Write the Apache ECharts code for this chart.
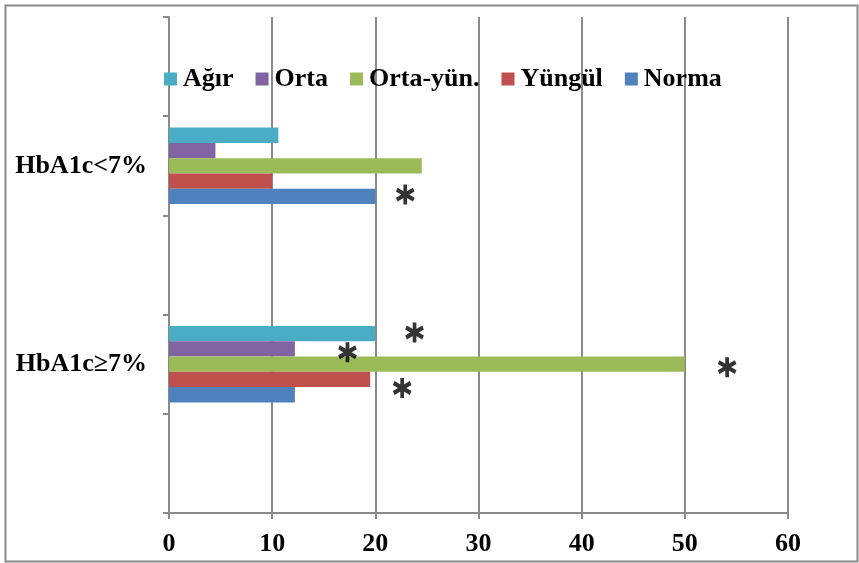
<!DOCTYPE html>
<html><head><meta charset="utf-8">
<script src="https://cdn.jsdelivr.net/npm/echarts@6/dist/echarts.min.js"></script>
<style>html,body{margin:0;padding:0;background:#fff}#c{width:859px;height:563px}</style>
</head><body><div id="c"></div>
<script>
// Categories from bottom to top (empty slots are blank spacer categories)
const categories = ['', 'HbA1c≥7%', ' ', 'HbA1c<7%', '  '];
const agir    = [null, 20.0, null, 10.6, null];
const orta    = [null, 12.2, null, 4.5, null];
const ortaYun = [null, 50.0, null, 24.5, null];
const yungul  = [null, 19.5, null, 10.0, null];
const norma   = [null, 12.2, null, 20.0, null];
const seriesNames = ['Ağır', 'Orta', 'Orta-yün.', 'Yüngül', 'Norma'];
const xTickMax = 60;
const xTickStep = 10;
// significance asterisks (x value, y position on 0..5 category scale)
const starX = [22.9, 23.8, 17.3, 54.1, 22.6];
const starY = [3.21, 1.82, 1.62, 1.47, 1.26];

const colors = ['#4BACC6', '#8064A2', '#9BBB59', '#C0504D', '#4F81BD'];
const values = [agir, orta, ortaYun, yungul, norma];
const font = 'Liberation Serif';
const grey = '#8a8a8a';

const chart = echarts.init(document.getElementById('c'), null, {renderer: 'canvas'});
const barSeries = seriesNames.map((n, i) => ({
  name: n,
  type: 'bar',
  data: values[i],
  barGap: '0%',
  barCategoryGap: '23%',
  itemStyle: {color: colors[i]},
  emphasis: {disabled: true},
  animation: false
}));
const asteriskPath = 'path://M10 0 L10 20 M1.34 5 L18.66 15 M1.34 15 L18.66 5';
const starSeries = {
  name: 'sig',
  type: 'scatter',
  yAxisIndex: 1,
  data: starX.map((x, i) => [x, starY[i]]),
  symbol: asteriskPath,
  symbolSize: [17, 20],
  itemStyle: {color: 'rgba(0,0,0,0)', borderColor: '#000', borderWidth: 4},
  emphasis: {disabled: true},
  silent: true,
  animation: false
};

chart.setOption({
  backgroundColor: '#fff',
  animation: false,
  graphic: [{
    type: 'rect', left: 3, top: 3,
    shape: {width: 852, height: 556},
    style: {fill: 'none', stroke: grey, lineWidth: 2},
    silent: true
  }],
  legend: {
    data: seriesNames,
    left: 159, top: 61,
    itemWidth: 13, itemHeight: 13, itemGap: 22,
    icon: 'rect',
    textStyle: {fontFamily: font, fontWeight: 'bold', fontSize: 26, color: '#000', padding: [0, 0, 0, 1]},
    selectedMode: false
  },
  grid: {left: 169, right: 71, top: 17, bottom: 50, containLabel: false},
  xAxis: {
    type: 'value', min: 0, max: xTickMax, interval: xTickStep,
    axisLine: {show: true, lineStyle: {color: grey, width: 2}},
    axisTick: {show: true, length: 6, lineStyle: {color: grey, width: 2}},
    splitLine: {show: true, lineStyle: {color: grey, width: 2}},
    axisLabel: {margin: 18, fontFamily: font, fontWeight: 'bold', fontSize: 26, color: '#000'}
  },
  yAxis: [{
    type: 'category', data: categories,
    axisLine: {show: true, lineStyle: {color: grey, width: 2}},
    axisTick: {show: true, length: 6, lineStyle: {color: grey, width: 2}},
    splitLine: {show: false},
    axisLabel: {margin: 22, fontFamily: font, fontWeight: 'bold', fontSize: 26, color: '#000'}
  }, {
    type: 'value', min: 0, max: 5, show: false,
    axisLine: {show: false}, splitLine: {show: false}
  }],
  series: [...barSeries, starSeries]
});
</script>
</body></html>
